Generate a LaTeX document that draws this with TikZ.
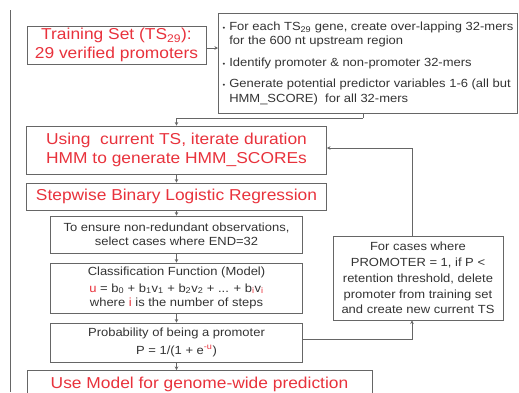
\documentclass[tikz,border=0pt]{standalone}
\usepackage{fontspec}
\setmainfont{Liberation Sans}[FakeStretch=1.1]
\usetikzlibrary{arrows.meta}
\definecolor{tred}{HTML}{E8323C}
\definecolor{tgray}{HTML}{333333}
\definecolor{lgray}{HTML}{666666}
\newcommand{\smbul}{{\fontsize{7}{7}\selectfont\textbullet}}
\begin{document}
\begin{tikzpicture}[x=1pt,y=-1pt,
  box/.style={draw=lgray, line width=0.9pt, inner sep=0pt, align=center},
  big/.style={box, text=tred, font=\fontsize{15.8}{19}\selectfont},
  small/.style={box, text=tgray, font=\fontsize{11.8}{14.5}\selectfont},
  arr/.style={draw=lgray, line width=0.8pt, -{Stealth[length=3.5pt,width=3.5pt]}},
  conn/.style={draw=lgray, line width=0.8pt},
]
\useasboundingbox (0,0) rectangle (519,392);
\draw[conn, line width=0.9pt] (10,10) -- (10,392);

\node[big, minimum width=179pt, minimum height=38pt] (ts) at (116.5,45)
  {Training Set (TS\textsubscript{29}):\\29 verified promoters};

\node[small, anchor=north west, minimum width=299pt, minimum height=100pt, align=left] (bb) at (218,13)
  {\begin{tabular}{@{}l@{\hspace{4pt}}l@{}}
   \smbul & For each TS\textsubscript{29} gene, create over-lapping 32-mers\\
          & for the 600 nt upstream region\\[7pt]
   \smbul & Identify promoter \& non-promoter 32-mers\\[7pt]
   \smbul & Generate potential predictor variables 1-6 (all but\\
          & HMM\_SCORE)\ \ for all 32-mers
   \end{tabular}};

\node[big, minimum width=300pt, minimum height=48pt] (hmm) at (176.5,150)
  {Using\ \ current TS, iterate duration\\HMM to generate HMM\_SCOREs};

\node[big, minimum width=300pt, minimum height=27pt] (step) at (176.5,196.5)
  {Stepwise Binary Logistic Regression};

\node[small, minimum width=252pt, minimum height=37pt] (ens) at (176.5,234.5)
  {To ensure non-redundant observations,\\select cases where END=32};

\node[small, minimum width=252pt, minimum height=50pt] (cls) at (176.5,288)
  {Classification Function (Model)\\[2pt]
   {\color{tred}u} = b\textsubscript{0} + b\textsubscript{1}v\textsubscript{1} + b\textsubscript{2}v\textsubscript{2} + ... + b\textsubscript{\color{tred}i}v\textsubscript{\color{tred}i}\\
   where {\color{tred}i} is the number of steps};

\node[small, minimum width=252pt, minimum height=39pt] (prob) at (176.5,342.5)
  {Probability of being a promoter\\[3pt]
   P = 1/(1 + e\textsuperscript{\color{tred}-u})};

\node[big, anchor=north, minimum width=345pt, minimum height=28pt] (use) at (199.5,370)
  {Use Model for genome-wide prediction};

\node[small, minimum width=170pt, minimum height=84pt, font=\fontsize{11.8}{15.8}\selectfont] (fb) at (418,278)
  {For cases where\\PROMOTER = 1, if P <\\retention threshold, delete\\promoter from training set\\and create new current TS};

\coordinate (c1) at (363,118);
\draw[arr] ([yshift=-3pt]ts.east) -- ([yshift=-3pt]ts.east -| bb.west);
\draw[conn] (bb.south -| c1) -- (c1);
\draw[arr] (c1) -| (hmm.north);
\draw[arr] (hmm.south) -- (step.north);
\draw[arr] (step.south) -- (ens.north);
\draw[arr] (ens.south) -- (cls.north);
\draw[arr] (cls.south) -- (prob.north);
\draw[arr] (prob.south) -- (prob.south |- use.north);
\draw[arr] ([yshift=3pt]prob.east) -| ([xshift=-6pt]fb.south);
\draw[arr] ([xshift=-6pt]fb.north) |- ([yshift=2pt]hmm.east);
\end{tikzpicture}
\end{document}
